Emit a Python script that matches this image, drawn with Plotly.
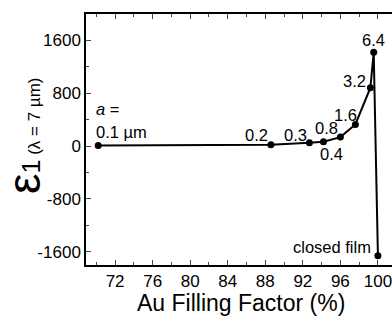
import plotly.graph_objects as go

# Data
filling_factor = [70.2, 88.6, 92.7, 94.2, 96.0, 97.6, 99.2, 99.55, 100.0]
eps1 = [10, 20, 50, 65, 136, 328, 885, 1420, -1660]
labels = ["0.1 µm", "0.2", "0.3", "0.4", "0.8", "1.6", "3.2", "6.4", "closed film"]
x_ticks = [72, 76, 80, 84, 88, 92, 96, 100]
y_ticks = [-1600, -800, 0, 800, 1600]
y_tick_text = ["-1600", "-800", "0", "800", "1600"]

# label offsets (pixels) and anchors
label_dx = [-4, -14, -14, 8, -14, -10, -16, 0, -5]
label_dy = [13, 10, 8, -12, 9, 9, 7, 12, 9]
label_anchor = ["left", "center", "center", "center", "center", "center", "center", "center", "right"]

FONT = "Liberation Sans, Arial, sans-serif"

fig = go.Figure()
fig.add_trace(go.Scatter(
    x=filling_factor, y=eps1, mode="lines+markers",
    line=dict(color="black", width=2),
    marker=dict(color="black", size=7),
    showlegend=False, cliponaxis=False,
))

for xv, yv, t, dx, dy, an in zip(filling_factor, eps1, labels, label_dx, label_dy, label_anchor):
    fig.add_annotation(x=xv, y=yv, text=t, showarrow=False, xanchor=an, yanchor="middle",
                       xshift=dx, yshift=dy, font=dict(size=16.5, color="black", family=FONT))

fig.add_annotation(x=filling_factor[0], y=eps1[0], text="<i>a</i> =", showarrow=False,
                   xanchor="left", yanchor="middle", xshift=-4, yshift=36,
                   font=dict(size=16.5, color="black", family=FONT))

# Y title
fig.add_annotation(
    xref="paper", yref="paper", x=-0.205, y=0.515, textangle=-90, showarrow=False,
    xanchor="center", yanchor="middle",
    text="<span style='font-size:46px'>ε</span><span style='font-size:25px'>1</span>"
         "<span style='font-size:17px'> (λ = 7 µm)</span>",
    font=dict(color="black", family=FONT),
)

# X title
fig.add_annotation(
    xref="paper", yref="paper", x=0.508, y=-0.152, showarrow=False,
    xanchor="center", yanchor="middle",
    text="Au Filling Factor (%)",
    font=dict(size=23, color="black", family=FONT),
)

fig.update_xaxes(
    range=[68.9, 101.5], tickvals=x_ticks, ticks="inside", ticklen=5, tickwidth=1,
    minor=dict(dtick=2, tick0=0, ticks="inside", ticklen=3, tickwidth=1),
    showline=True, linecolor="black", linewidth=1.5, mirror="allticks",
    showgrid=False, zeroline=False, automargin=False, ticklabeloverflow="allow",
    tickfont=dict(size=17, color="black", family=FONT),
)
fig.update_yaxes(
    range=[-1800, 2000], tickvals=y_ticks, ticktext=y_tick_text,
    ticks="inside", ticklen=5, tickwidth=1,
    minor=dict(dtick=400, tick0=0, ticks="inside", ticklen=3, tickwidth=1),
    showline=True, linecolor="black", linewidth=1.5,
    showgrid=False, zeroline=False, automargin=False,
    tickfont=dict(size=17, color="black", family=FONT),
)

fig.update_layout(
    width=392, height=320,
    margin=dict(l=86, r=0, t=14, b=55, autoexpand=False),
    plot_bgcolor="white", paper_bgcolor="white",
)

fig.write_html("out.html", config={"displayModeBar": False},
               post_script="document.body.style.margin='0';document.body.style.overflow='hidden';")
